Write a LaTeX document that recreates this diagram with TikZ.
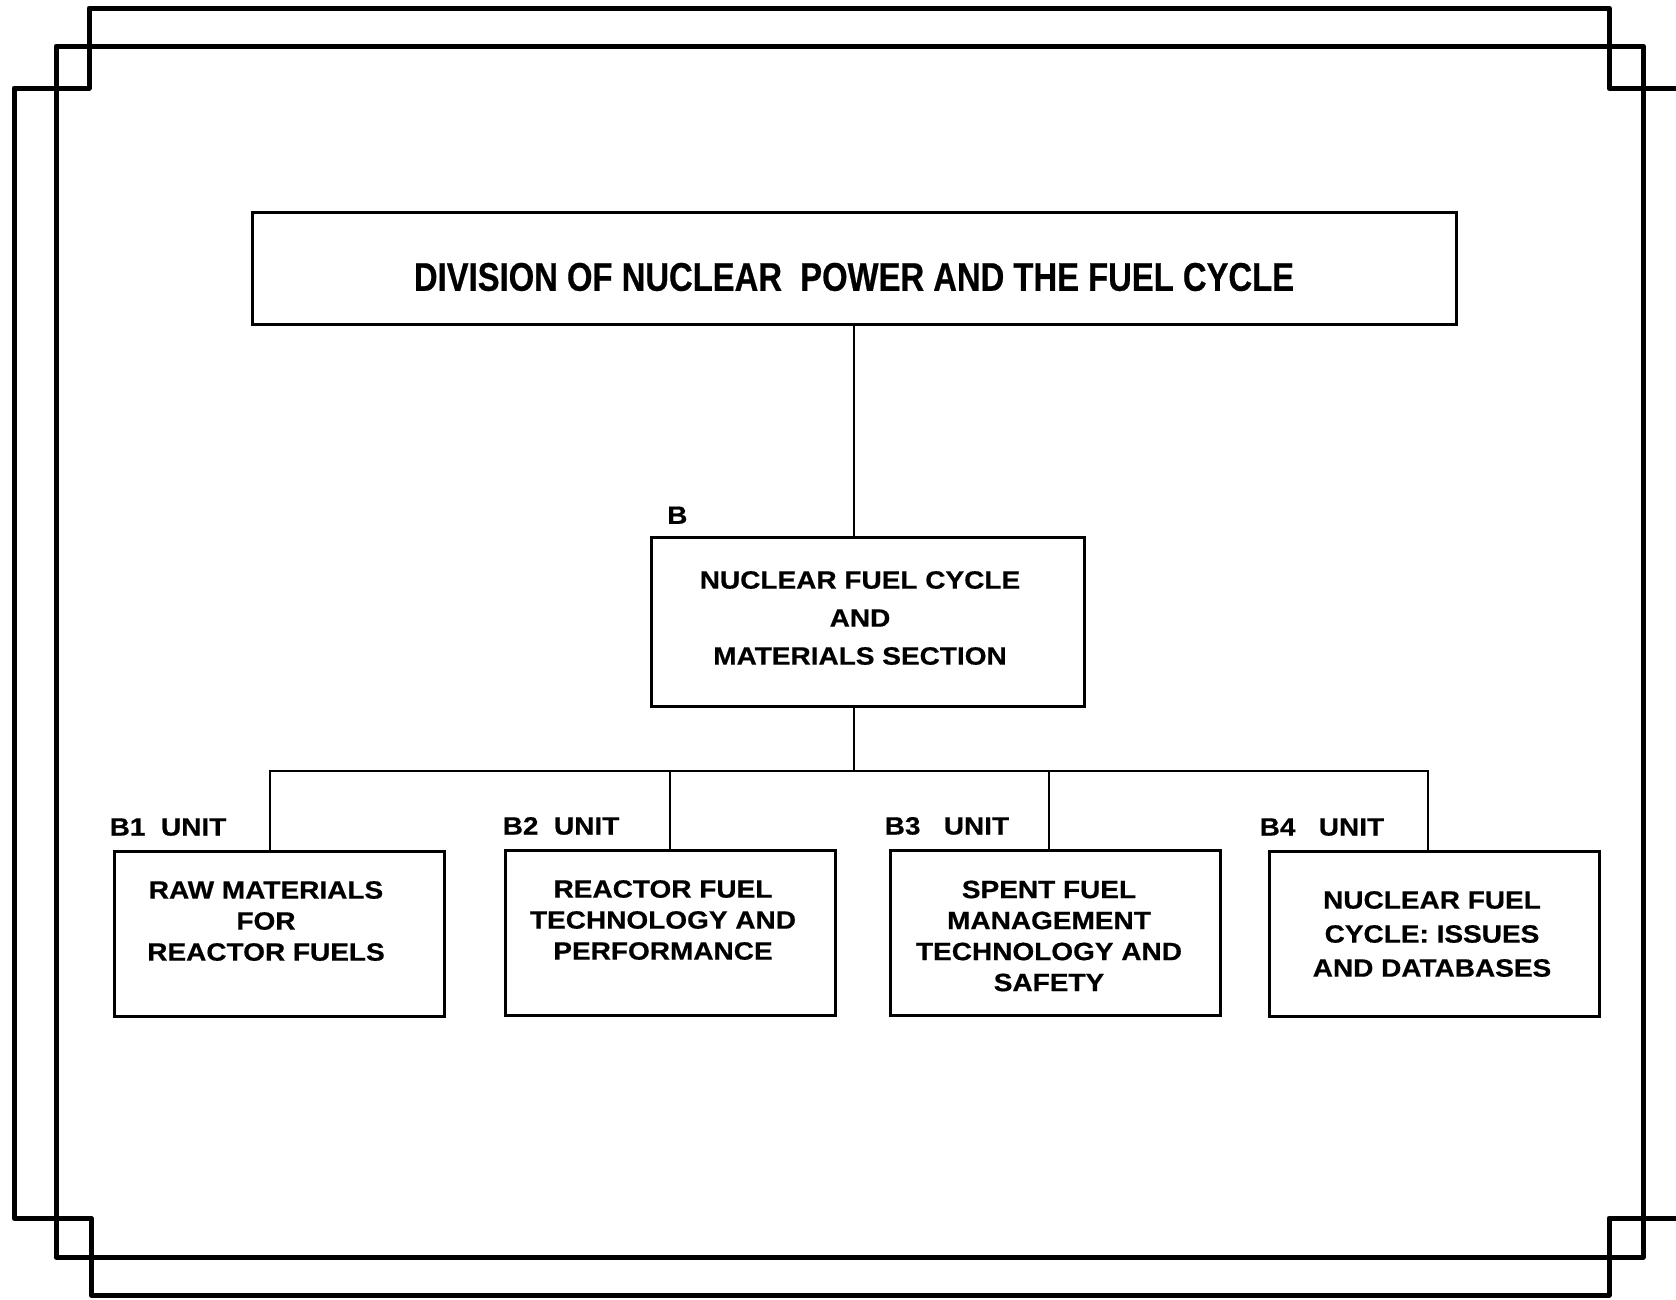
\documentclass[tikz,border=0pt]{standalone}
\usepackage{fontspec}
\setmainfont{Liberation Sans}
\newfontfamily\titlefont[FakeStretch=0.82,BoldFeatures={FakeBold=0.5}]{Liberation Sans}
\newfontfamily\boxfont[FakeStretch=1.12,BoldFeatures={FakeBold=0.6}]{Liberation Sans}
\begin{document}
\begin{tikzpicture}[x=1pt,y=-1pt,
  frame/.style={line width=5pt,line join=round},
  box/.style={draw,line width=3pt,inner sep=0pt},
  unitbox/.style={box,minimum width=330pt,minimum height=165pt},
  boxtext/.style={inner sep=0pt,align=center,
    font=\boxfont\bfseries\fontsize{25}{31}\selectfont},
  tag/.style={anchor=south west,inner sep=0pt,
    font=\boxfont\bfseries\fontsize{25}{30}\selectfont},
  link/.style={line width=1.5pt}]
  \useasboundingbox (0,0) rectangle (1676,1299);
  % double border
  \begin{scope}
    \clip (0,0) rectangle (1676,1299);
    \draw[frame] (14,88) -- (89,88) -- (89,8) -- (1609,8) -- (1609,88) -- (1700,88)
      -- (1700,1218) -- (1609,1218) -- (1609,1295) -- (91,1295) -- (91,1218) -- (14,1218) -- cycle;
    \draw[frame] (56,46) rectangle (1643,1257);
  \end{scope}
  % boxes
  \node[box,minimum width=1204pt,minimum height=112pt] (title) at (854,268) {};
  \node[box,minimum width=433pt,minimum height=169pt] (sec) at (868,622) {};
  \node[unitbox] (b1) at (279,934) {};
  \node[unitbox] (b2) at (670,933) {};
  \node[unitbox] (b3) at (1055,933) {};
  \node[unitbox] (b4) at (1434,934) {};
  % texts
  \node[inner sep=0pt,font=\titlefont\bfseries\fontsize{40}{44}\selectfont] (titletxt)
    at ([yshift=-9pt]title) {DIVISION OF NUCLEAR\ \ POWER AND THE FUEL CYCLE};
  \node[boxtext,font=\boxfont\bfseries\fontsize{25}{38}\selectfont] (sectxt)
    at ([xshift=-8pt,yshift=4pt]sec) {NUCLEAR FUEL CYCLE\\AND\\MATERIALS SECTION};
  \node[boxtext] (b1txt) at ([xshift=-13pt,yshift=13pt]b1) {RAW MATERIALS\\FOR\\REACTOR FUELS};
  \node[boxtext] (b2txt) at ([xshift=-7pt,yshift=13pt]b2) {REACTOR FUEL\\TECHNOLOGY AND\\PERFORMANCE};
  \node[boxtext] (b3txt) at ([xshift=-6pt,yshift=-3pt]b3) {SPENT FUEL\\MANAGEMENT\\TECHNOLOGY AND\\SAFETY};
  \node[boxtext,font=\boxfont\bfseries\fontsize{25}{34}\selectfont] (b4txt)
    at ([xshift=-2pt]b4) {NUCLEAR FUEL\\CYCLE: ISSUES\\AND DATABASES};
  % labels
  \node[tag] (sectag) at ([xshift=17pt,yshift=12pt]sec.north west) {B};
  \node[tag] (b1tag) at ([xshift=-3pt,yshift=14pt]b1.north west) {B1\ \ UNIT};
  \node[tag] (b2tag) at ([xshift=-1pt,yshift=14pt]b2.north west) {B2\ \ UNIT};
  \node[tag] (b3tag) at ([xshift=-4pt,yshift=14pt]b3.north west) {B3\ \ \ UNIT};
  \node[tag] (b4tag) at ([xshift=-8pt,yshift=14pt]b4.north west) {B4\ \ \ UNIT};
  % connectors
  \draw[link] (title.south) -- (title.south |- sec.north);
  \draw[link] (title.south |- sec.south) -- ++(0,63) coordinate (bus);
  \draw[link] ([xshift=-9pt]b1.north) |- (bus) -| ([xshift=-6pt]b4.north);
  \draw[link] (b2.north) -- (b2.north |- bus);
  \draw[link] ([xshift=-6pt]b3.north) -- ([xshift=-6pt]b3.north |- bus);
\end{tikzpicture}
\end{document}
